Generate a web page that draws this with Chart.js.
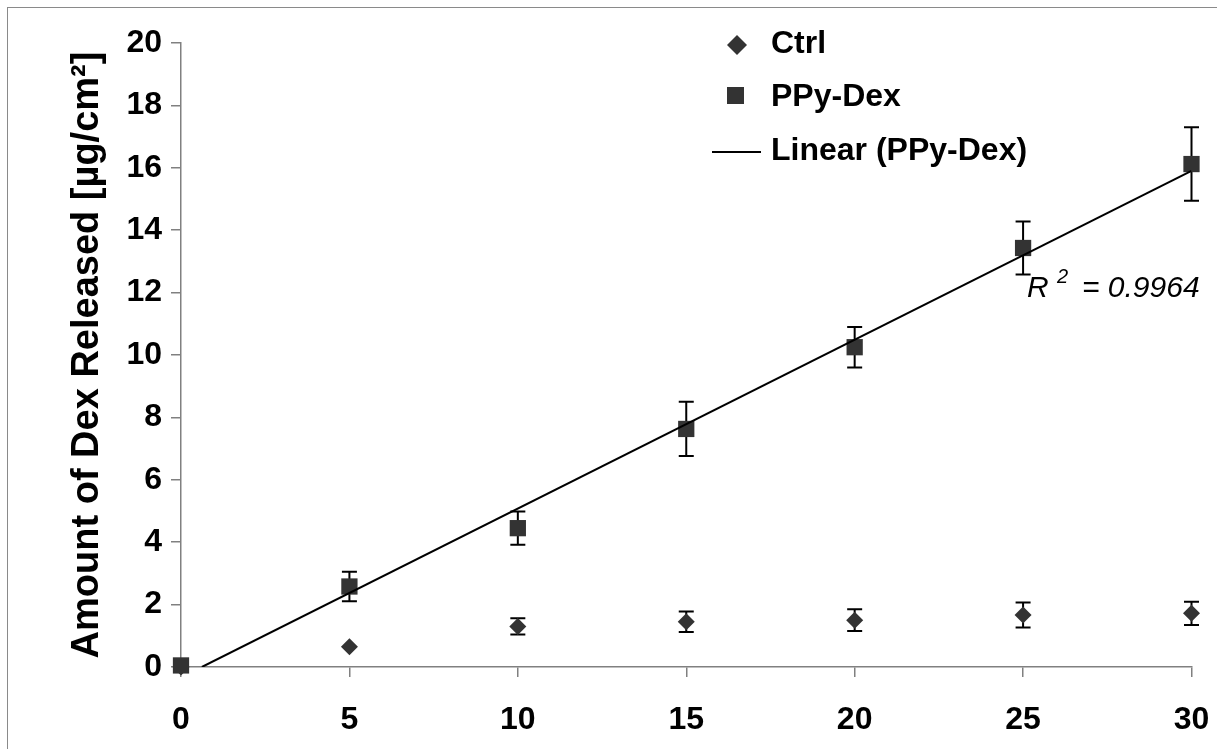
<!DOCTYPE html>
<html>
<head>
<meta charset="utf-8">
<script src="https://cdn.jsdelivr.net/npm/chart.js@4.4.1/dist/chart.umd.min.js"></script>
<style>
    html, body { margin: 0; padding: 0; background: #fff; }
    #wrap { position: relative; width: 1217px; height: 749px; overflow: hidden; }
    #releaseChart { position: absolute; left: 0; top: 0; }
    #frame { position: absolute; left: 7px; top: 7px; right: 0; bottom: 0; border-top: 1px solid #8a8a8a; border-left: 1px solid #8a8a8a; pointer-events: none; }
</style>
</head>
<body>
<div id="wrap">
    <canvas id="releaseChart" width="1217" height="749"></canvas>
    <div id="frame"></div>
</div>
<script>
// time in days (x) and release in µg/cm² (y)
const timePoints = [0, 5, 10, 15, 20, 25, 30];
const ctrlMean = [0, 0.65, 1.3, 1.45, 1.5, 1.67, 1.72];
const ctrlErr = [0, 0, 0.26, 0.33, 0.35, 0.4, 0.37];
const ppyMean = [0.05, 2.58, 4.45, 7.63, 10.25, 13.43, 16.12];
const ppyErr = [0, 0.47, 0.53, 0.87, 0.65, 0.85, 1.18];

// Excel trendline ends (clipped at y = 0)
const trendX = [0.62, 30];
const trendY = [0, 15.9];

const seriesNames = ['Ctrl', 'PPy-Dex', 'Linear (PPy-Dex)'];
const yTitle = 'Amount of Dex Released [µg/cm²]';
const rSquared = '0.9964';

const FONT = "'Liberation Sans', Arial, sans-serif";
const MARK = '#333333';

Chart.defaults.font.family = FONT;
Chart.defaults.color = '#000';

function toPoints(xs, ys) {
    return xs.map((x, i) => ({ x: x, y: ys[i] }));
}

// vertical error bars with caps, drawn under the markers
const errorBars = {
    id: 'errorBars',
    beforeDatasetsDraw(chart) {
        const ctx = chart.ctx;
        const xs = chart.scales.x;
        const ys = chart.scales.y;
        const sets = [[ctrlMean, ctrlErr], [ppyMean, ppyErr]];
        ctx.save();
        ctx.strokeStyle = '#000';
        ctx.lineWidth = 2;
        sets.forEach(([mean, err]) => {
            timePoints.forEach((t, i) => {
                if (!err[i]) return;
                const px = xs.getPixelForValue(t);
                const top = ys.getPixelForValue(mean[i] + err[i]);
                const bot = ys.getPixelForValue(mean[i] - err[i]);
                ctx.beginPath();
                ctx.moveTo(px, top); ctx.lineTo(px, bot);
                ctx.moveTo(px - 7.5, top); ctx.lineTo(px + 7.5, top);
                ctx.moveTo(px - 7.5, bot); ctx.lineTo(px + 7.5, bot);
                ctx.stroke();
            });
        });
        ctx.restore();
    }
};

// legend in the top right corner and the R² note
const annotations = {
    id: 'annotations',
    afterDraw(chart) {
        const ctx = chart.ctx;
        ctx.save();
        ctx.fillStyle = MARK;

        // diamond
        ctx.beginPath();
        ctx.moveTo(737, 35); ctx.lineTo(747, 45); ctx.lineTo(737, 55); ctx.lineTo(727, 45);
        ctx.closePath();
        ctx.fill();
        // square
        ctx.fillRect(727, 87, 17, 17);
        // line
        ctx.strokeStyle = '#000';
        ctx.lineWidth = 2;
        ctx.beginPath();
        ctx.moveTo(712, 152); ctx.lineTo(761, 152);
        ctx.stroke();

        ctx.fillStyle = '#000';
        ctx.textBaseline = 'middle';
        ctx.font = 'bold 32px ' + FONT;
        ctx.fillText(seriesNames[0], 771, 44);
        ctx.fillText(seriesNames[1], 771, 97);
        ctx.fillText(seriesNames[2], 771, 151);

        ctx.textBaseline = 'alphabetic';
        ctx.font = 'italic 30px ' + FONT;
        ctx.fillText('R', 1027, 297);
        ctx.font = 'italic 20px ' + FONT;
        ctx.fillText('2', 1057, 283);
        ctx.font = 'italic 30px ' + FONT;
        ctx.fillText('= ' + rSquared, 1082, 297);
        ctx.restore();
    }
};

const data = {
    datasets: [
        {
            label: seriesNames[2],
            data: toPoints(trendX, trendY),
            showLine: true,
            borderColor: '#000',
            borderWidth: 2,
            pointRadius: 0,
            order: 0
        },
        {
            label: seriesNames[0],
            data: toPoints(timePoints, ctrlMean),
            pointStyle: 'rectRot',
            pointRadius: 8.5,
            backgroundColor: MARK,
            borderColor: MARK,
            borderWidth: 0,
            showLine: false,
            clip: false,
            order: 2
        },
        {
            label: seriesNames[1],
            data: toPoints(timePoints, ppyMean),
            pointStyle: 'rect',
            pointRadius: 11.5,
            backgroundColor: MARK,
            borderColor: MARK,
            borderWidth: 0,
            showLine: false,
            clip: false,
            order: 1
        }
    ]
};

const options = {
    responsive: false,
    animation: false,
    layout: {
        autoPadding: false,
        padding: { top: 43, right: 25.5, left: 0, bottom: 0 }
    },
    plugins: {
        legend: { display: false },
        tooltip: { enabled: false }
    },
    scales: {
        x: {
            type: 'linear',
            min: 0,
            max: 30,
            ticks: {
                stepSize: 5,
                color: '#000',
                padding: 24,
                font: { size: 32, weight: 'bold' }
            },
            grid: { drawOnChartArea: false, drawTicks: true, tickLength: 10, color: '#808080', lineWidth: 1.5 },
            border: { color: '#808080', width: 1.5 },
            afterFit: (scale) => {
                scale.height = 82;
                scale.paddingLeft = 0;
                scale.paddingRight = 0;
            }
        },
        y: {
            min: 0,
            max: 20,
            ticks: {
                stepSize: 2,
                color: '#000',
                padding: 9,
                font: { size: 32, weight: 'bold' }
            },
            grid: { drawOnChartArea: false, drawTicks: true, tickLength: 10, color: '#808080', lineWidth: 1.5 },
            border: { color: '#808080', width: 1.5 },
            title: {
                display: true,
                text: yTitle,
                color: '#000',
                font: { size: 38, weight: 'bold', lineHeight: 1.2 },
                padding: { top: 65, bottom: 0 }
            },
            afterFit: (scale) => { scale.width = 181; }
        }
    }
};

new Chart(document.getElementById('releaseChart').getContext('2d'), {
    type: 'scatter',
    data: data,
    options: options,
    plugins: [errorBars, annotations]
});
</script>
</body>
</html>
